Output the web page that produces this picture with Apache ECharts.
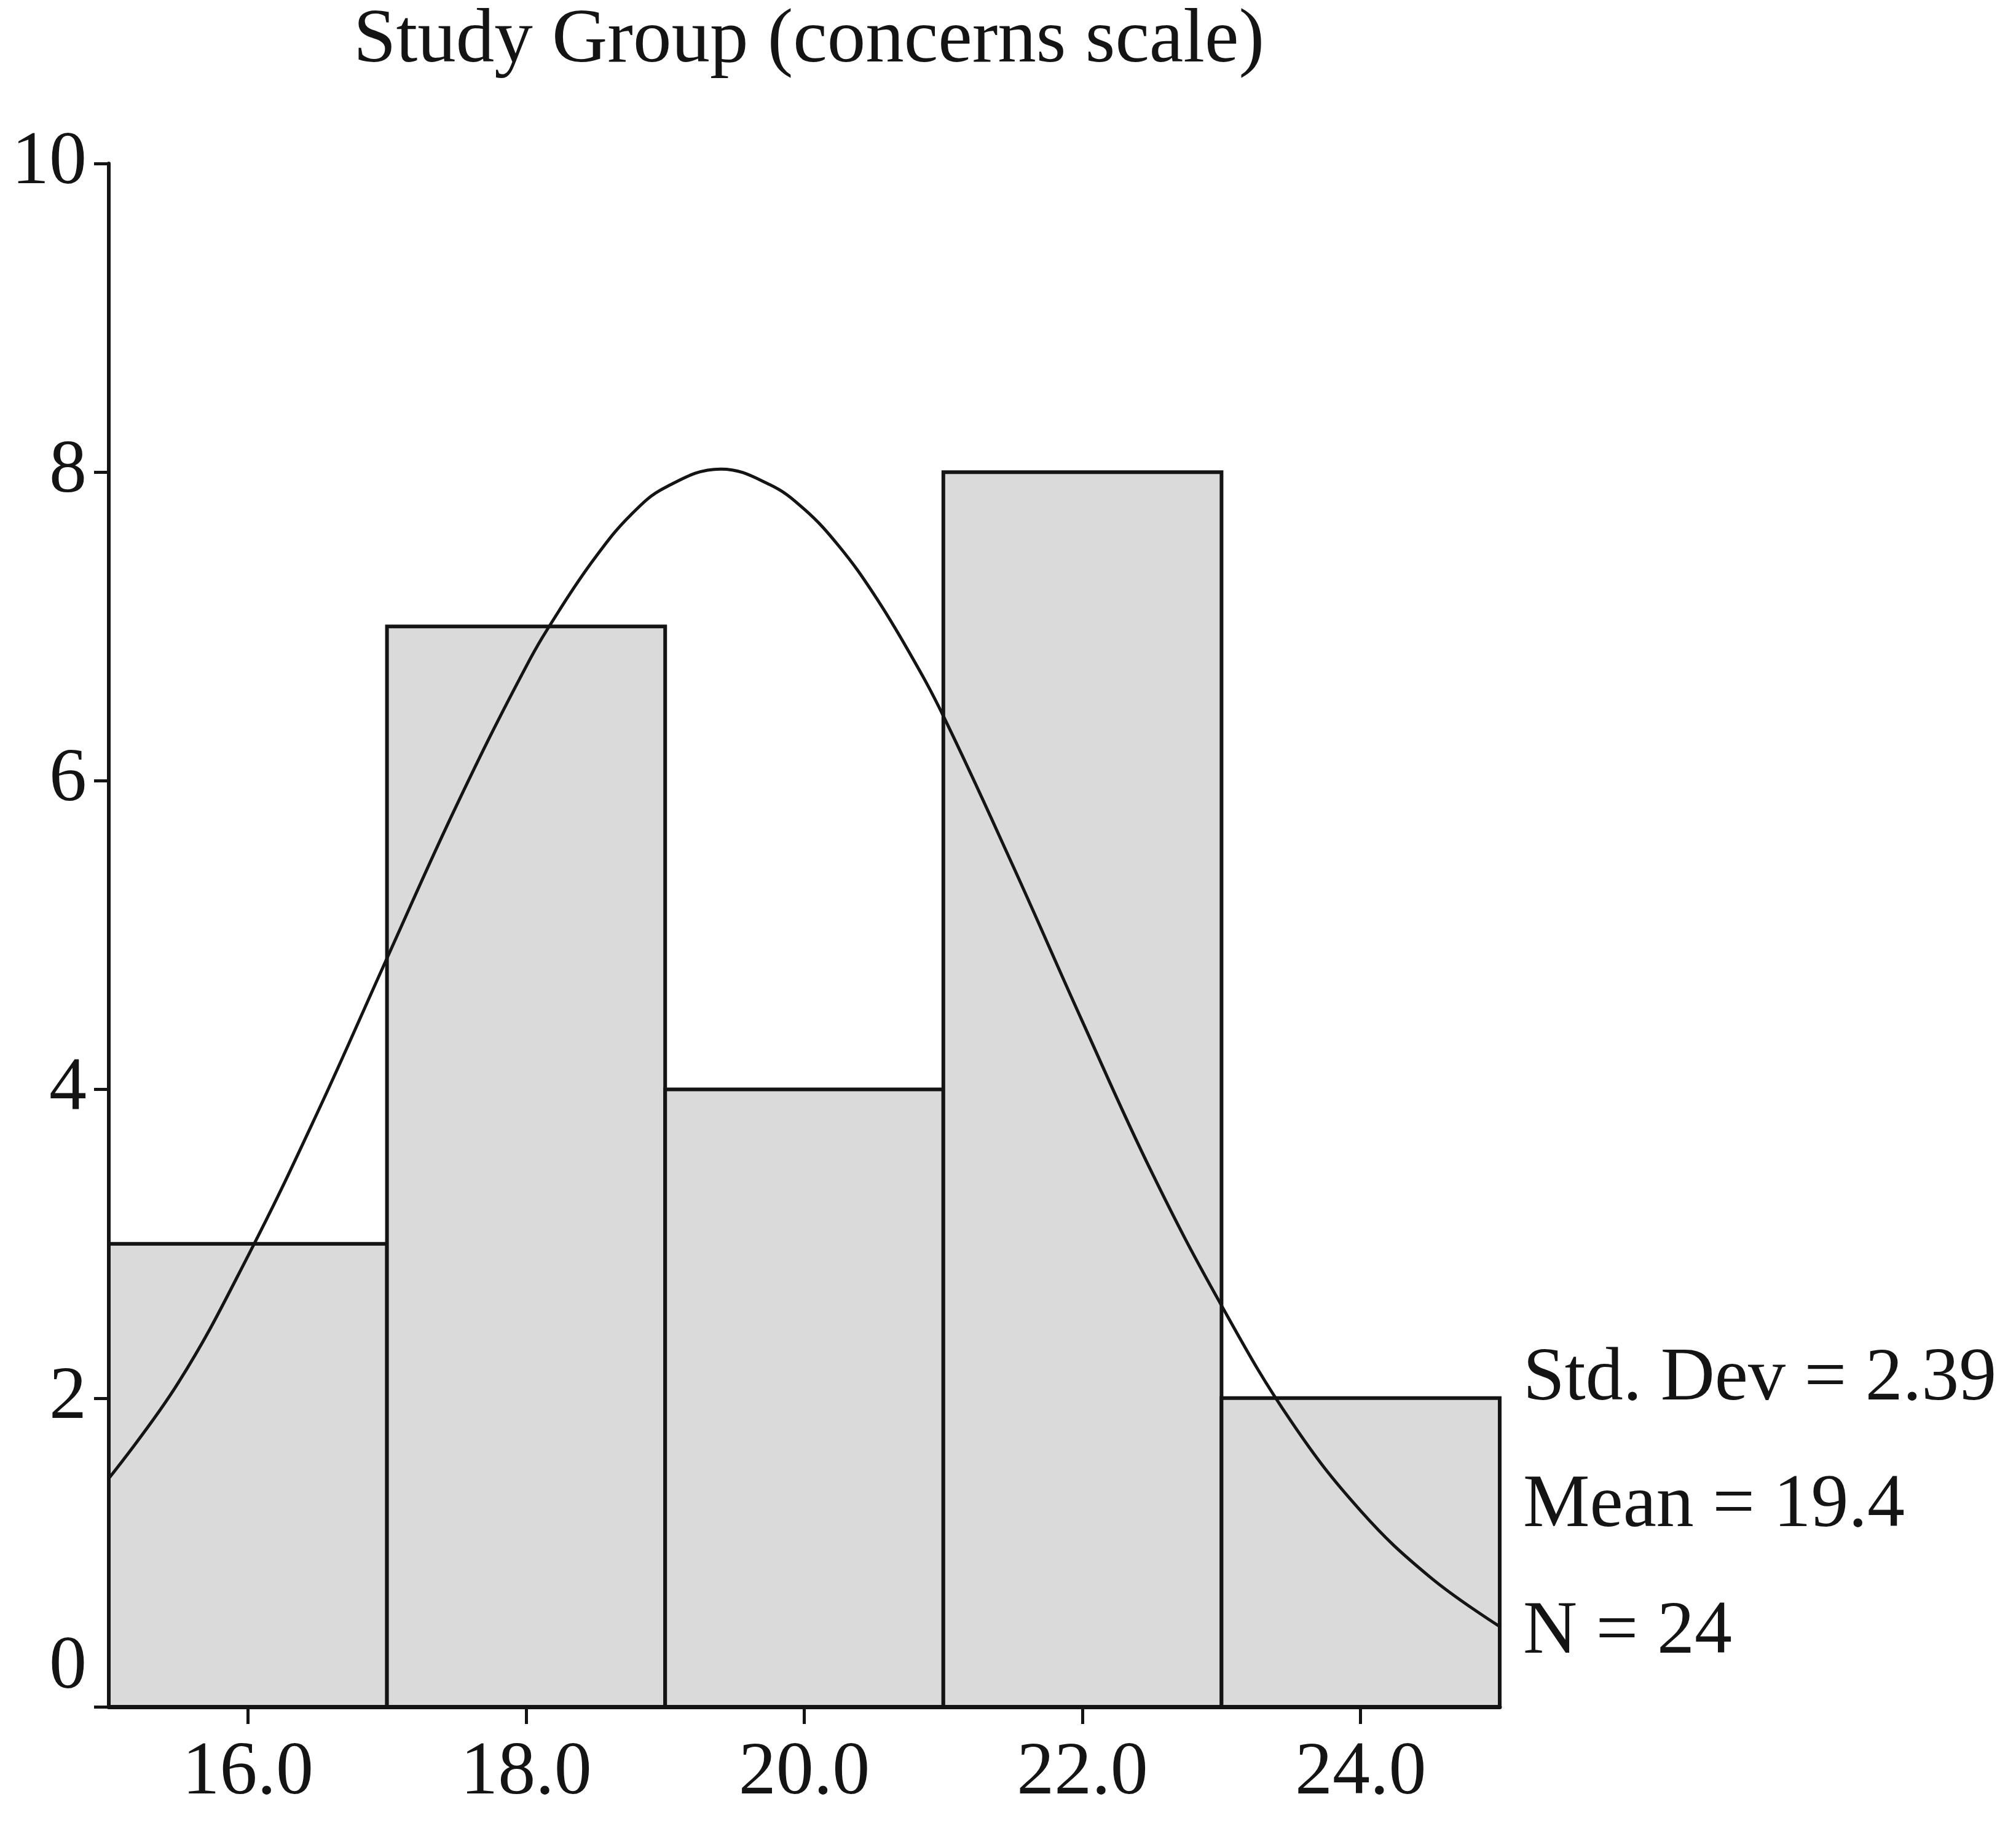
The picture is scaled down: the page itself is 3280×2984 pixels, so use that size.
<!DOCTYPE html>
<html>
<head>
<meta charset="utf-8">
<title>Study Group (concerns scale)</title>
<script src="https://cdn.jsdelivr.net/npm/echarts@6/dist/echarts.min.js"></script>
<style>
html, body { margin: 0; padding: 0; background: #fff; }
#chart { width: 3280px; height: 2984px; }
</style>
</head>
<body>
<div id="chart"></div>
<script>
// 直方图分组（起点、终点）与频数
const binStarts = [15, 17, 19, 21, 23];
const binEnds = [17, 19, 21, 23, 25];
const counts = [3, 7, 4, 8, 2];
// 正态曲线：点
const curveX = [15, 15.5, 16, 16.5, 17, 17.5, 18, 18.25, 18.5, 18.75, 19, 19.4, 19.75, 20, 20.25, 20.5, 20.75, 21, 21.5, 22, 22.5, 23, 23.5, 24, 24.5, 25];
const curveY = [1.48, 2.1, 2.92, 3.85, 4.85, 5.84, 6.74, 7.12, 7.45, 7.72, 7.9, 8.02, 7.92, 7.76, 7.52, 7.21, 6.84, 6.42, 5.45, 4.44, 3.46, 2.6, 1.85, 1.27, 0.84, 0.52];
// 刻度
const xTicks = [16, 18, 20, 22, 24];
const statLines = ['Std. Dev = 2.39', 'Mean = 19.4', 'N = 24'];
const titleText = 'Study Group (concerns scale)';

const fontName = "'Liberation Serif', 'DejaVu Serif', serif";
const ink = '#141414';

let myChart = echarts.init(document.getElementById('chart'));

let barData = [];
binStarts.forEach(function (s, i) {
    barData.push([s, binEnds[i], counts[i]]);
});
let curveData = [];
curveX.forEach(function (x, i) {
    curveData.push([x, curveY[i]]);
});

// 右侧统计文字
let statGraphics = [];
statLines.forEach(function (t, i) {
    statGraphics.push({
        type: 'text',
        left: 2478,
        top: 2184 + i * 206,
        style: {
            text: t,
            fill: ink,
            font: '122px ' + fontName
        }
    });
});

let option = {
    animation: false,
    backgroundColor: '#fff',
    title: {
        text: titleText,
        left: 570,
        top: 0,
        textStyle: {
            fontFamily: fontName,
            fontSize: 125,
            fontWeight: 'normal',
            color: ink
        }
    },
    grid: {
        left: 177,
        right: 840,
        top: 266,
        bottom: 207
    },
    xAxis: {
        type: 'value',
        min: 15,
        max: 25,
        splitLine: { show: false },
        axisLine: { lineStyle: { color: ink, width: 7 } },
        axisTick: {
            customValues: xTicks,
            length: 28,
            lineStyle: { color: ink, width: 5 }
        },
        axisLabel: {
            customValues: xTicks,
            margin: 48,
            fontFamily: fontName,
            fontSize: 122,
            color: ink,
            formatter: function (v) { return v.toFixed(1); }
        }
    },
    yAxis: {
        type: 'value',
        min: 0,
        max: 10,
        interval: 2,
        splitLine: { show: false },
        axisLine: { show: true, lineStyle: { color: ink, width: 6 } },
        axisTick: { show: true, length: 24, lineStyle: { color: ink, width: 5 } },
        axisLabel: {
            margin: 36,
            fontFamily: fontName,
            fontSize: 122,
            color: ink,
            formatter: function (v) {
                return v === 0 ? '{z|0}' : String(v);
            },
            rich: {
                z: {
                    fontFamily: fontName,
                    fontSize: 122,
                    color: ink,
                    padding: [0, 0, 126, 0]
                }
            }
        }
    },
    graphic: statGraphics,
    series: [
        {
            name: 'count',
            type: 'custom',
            renderItem: function (params, api) {
                const p0 = api.coord([api.value(0), api.value(2)]);
                const p1 = api.coord([api.value(1), 0]);
                return {
                    type: 'rect',
                    shape: { x: p0[0], y: p0[1], width: p1[0] - p0[0], height: p1[1] - p0[1] },
                    style: { fill: '#dadada', stroke: ink, lineWidth: 6 }
                };
            },
            encode: { x: [0, 1], y: 2 },
            data: barData
        },
        {
            name: 'normal',
            type: 'line',
            smooth: 0.4,
            showSymbol: false,
            lineStyle: { color: ink, width: 5 },
            data: curveData,
            z: 5
        }
    ]
};

myChart.setOption(option);
</script>
</body>
</html>
